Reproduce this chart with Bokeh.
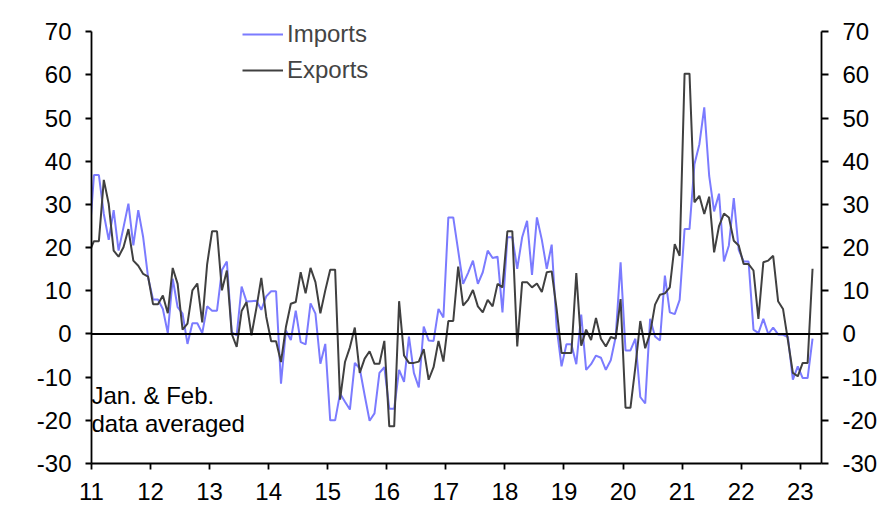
import pandas as pd
from bokeh.plotting import figure
from bokeh.models import (Range1d, LinearAxis, FixedTicker, Span, Legend,
                          LegendItem, Label, ColumnDataSource)
from bokeh.embed import file_html
from bokeh.resources import INLINE

# ---- data (y/y % change, monthly; Jan & Feb averaged) ----
first_month = "2010-12"
imports = [21.1,
    36.8, 36.8, 27.8, 21.8, 28.7, 19.3, 24.7, 30.2, 20.5, 28.7, 22.4, 13.1,
    8.0, 8.0, 5.8, 0.2, 12.8, 6.2, 4.7, -2.3, 2.5, 2.5, 0.2, 6.4,
    5.4, 5.4, 14.8, 16.8, 0.4, -0.3, 11.0, 7.5, 7.6, 7.7, 5.6, 8.7,
    9.9, 9.9, -11.5, 0.8, -1.4, 5.4, -1.9, -2.4, 7.1, 4.7, -6.9, -2.3,
    -20.0, -20.0, -13.8, -15.7, -17.5, -6.7, -8.0, -14.2, -20.1, -18.4, -9.0, -7.7,
    -17.3, -17.3, -8.3, -11.1, -0.6, -9.0, -12.4, 1.7, -1.5, -1.6, 5.8, 3.8,
    27.0, 27.0, 19.3, 11.6, 14.1, 17.0, 11.6, 14.3, 19.3, 17.6, 17.9, 5.0,
    22.4, 22.4, 15.1, 22.4, 26.2, 13.7, 27.0, 21.8, 15.1, 20.7, 1.6, -7.5,
    -2.4, -2.4, -7.0, 4.5, -8.3, -7.0, -5.0, -5.5, -8.3, -6.1, -0.7, 16.6,
    -3.8, -3.8, -1.1, -14.6, -16.1, 3.5, -0.6, -1.5, 13.5, 5.0, 4.6, 7.9,
    24.3, 24.3, 39.3, 43.9, 52.5, 36.6, 28.4, 32.5, 16.8, 20.5, 31.5, 19.5,
    16.8, 16.8, 1.0, 0.2, 3.5, 0.0, 1.5, -0.1, -0.2, -0.7, -10.6, -7.5,
    -10.2, -10.2, -1.1]
exports = [18.9,
    21.5, 21.5, 35.7, 30.1, 19.3, 17.9, 20.1, 24.3, 17.0, 15.8, 13.9, 13.3,
    6.9, 6.9, 8.9, 4.8, 15.3, 11.6, 1.0, 2.4, 10.1, 11.7, 2.7, 16.2,
    23.8, 23.8, 10.1, 14.7, 0.0, -3.0, 5.3, 7.4, -0.3, 6.0, 13.0, 4.0,
    -1.7, -1.7, -6.5, 1.6, 7.0, 7.4, 14.3, 9.4, 15.3, 12.0, 4.8, 10.1,
    14.9, 14.9, -15.2, -6.5, -3.1, 1.5, -9.0, -5.7, -4.0, -6.9, -6.9, -1.6,
    -21.4, -21.4, 7.6, -5.0, -6.7, -6.7, -6.4, -3.5, -10.6, -7.7, -1.6, -6.4,
    3.0, 3.0, 15.6, 6.6, 7.9, 10.2, 6.4, 5.0, 7.9, 6.4, 11.6, 10.8,
    23.8, 23.8, -2.9, 12.0, 12.0, 10.8, 11.7, 9.7, 14.3, 14.5, 5.8, -4.4,
    -4.4, -4.4, 14.1, -2.7, 1.0, -1.4, 3.7, -1.1, -2.9, -0.7, -1.1, 8.1,
    -17.1, -17.1, -7.7, 3.0, -3.3, 0.2, 6.8, 9.1, 9.4, 10.8, 20.8, 18.1,
    60.3, 60.3, 30.5, 32.0, 27.8, 31.8, 18.9, 25.0, 27.9, 27.0, 21.6, 20.5,
    16.2, 16.2, 14.7, 3.5, 16.6, 17.0, 18.1, 7.6, 5.8, -1.5, -9.0, -9.8,
    -6.7, -6.7, 15.1]
year_ticks = list(range(2011, 2024))
year_labels = ["11", "12", "13", "14", "15", "16", "17", "18", "19", "20", "21", "22", "23"]
y_ticks = [-30, -20, -10, 0, 10, 20, 30, 40, 50, 60, 70]
y_labels = ["-30", "-20", "-10", "0", "10", "20", "30", "40", "50", "60", "70"]
series_names = ["Imports", "Exports"]
note_lines = ["Jan. & Feb.", "data averaged"]

months = pd.period_range(first_month, periods=len(imports), freq="M")
xpos = [m.year + (m.month - 0.5) / 12.0 for m in months]
src = ColumnDataSource(dict(x=xpos, imports=imports, exports=exports))

FONT = "Liberation Sans"
FS = "24px"

# y range reaches a little above 70 so the legend is not clipped;
# the axes themselves stop at 70 via their bounds
p = figure(width=880, height=510, output_backend="svg", toolbar_location=None,
           x_range=Range1d(2011, 2023.36), y_range=Range1d(-30, 74),
           min_border_left=91, min_border_right=59, min_border_top=14,
           min_border_bottom=47)
p.outline_line_color = None
p.xgrid.visible = False
p.ygrid.visible = False
p.background_fill_color = "white"
p.border_fill_color = "white"

r_imp = p.line("x", "imports", source=src, line_color="#7B7BFF", line_width=2)
r_exp = p.line("x", "exports", source=src, line_color="#404040", line_width=2)

p.add_layout(Span(location=0, dimension="width", line_color="black", line_width=1.8))

def style_axis(ax, tick_out, standoff):
    ax.axis_line_color = "black"
    ax.axis_line_width = 1.8
    ax.major_tick_line_color = "black"
    ax.major_tick_line_width = 1.8
    ax.major_tick_in = 0
    ax.major_tick_out = tick_out
    ax.minor_tick_line_color = None
    ax.major_label_text_font = FONT
    ax.major_label_text_font_size = FS
    ax.major_label_text_color = "black"
    ax.major_label_standoff = standoff

xa = p.xaxis[0]
xa.ticker = FixedTicker(ticks=year_ticks)
xa.major_label_overrides = {t: l for t, l in zip(year_ticks, year_labels)}
style_axis(xa, 6, 13)

y_over = {t: l for t, l in zip(y_ticks, y_labels)}

ya = p.yaxis[0]
ya.ticker = FixedTicker(ticks=y_ticks)
ya.bounds = (-30, 70)
ya.major_label_overrides = y_over
style_axis(ya, 6, 14)

yr = LinearAxis(ticker=FixedTicker(ticks=y_ticks), bounds=(-30, 70))
yr.major_label_overrides = y_over
style_axis(yr, 7, 14)
p.add_layout(yr, "right")

legend = Legend(items=[LegendItem(label=series_names[0], renderers=[r_imp]),
                       LegendItem(label=series_names[1], renderers=[r_exp])],
                location=(151, 375), orientation="vertical")
legend.label_text_font = FONT
legend.label_text_font_size = FS
legend.glyph_width = 41
legend.glyph_height = 36
legend.label_height = 36
legend.label_standoff = 4
legend.spacing = 0
legend.padding = 0
legend.margin = 0
legend.border_line_color = None
legend.background_fill_alpha = 0
p.add_layout(legend)

for txt, yv in zip(note_lines, [-14.2, -20.8]):
    p.add_layout(Label(x=2011, y=yv, text=txt, text_font=FONT, text_font_size=FS,
                       text_color="black", text_baseline="alphabetic"))

open("out.html", "w").write(file_html(p, INLINE))
